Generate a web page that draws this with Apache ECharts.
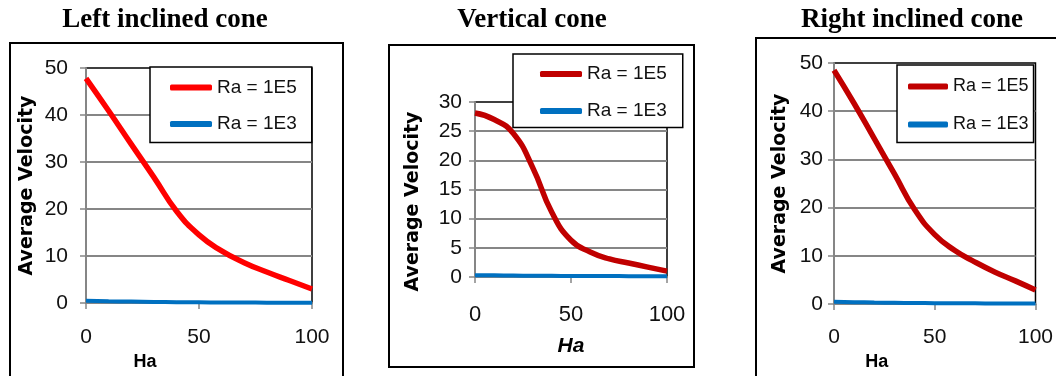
<!DOCTYPE html>
<html>
<head>
<meta charset="utf-8">
<script src="https://cdn.jsdelivr.net/npm/echarts@6/dist/echarts.min.js"></script>
<style>
  html, body { margin: 0; padding: 0; background: #fff; }
  #main { width: 1056px; height: 376px; }
</style>
</head>
<body>
<div id="main"></div>
<script>
// Hartmann number
var ha = [0, 10, 20, 30, 40, 50, 60, 70, 80, 90, 100];
// left inclined cone
var leftRa1E5 = [47.8, 40.9, 33.8, 26.8, 19.6, 14.5, 11.1, 8.6, 6.6, 4.8, 3.0];
var leftRa1E3 = [0.5, 0.4, 0.32, 0.25, 0.2, 0.16, 0.13, 0.11, 0.1, 0.1, 0.1];
// vertical cone
var vertRa1E5 = [28.1, 27.0, 24.6, 18.8, 11.1, 6.3, 4.3, 3.1, 2.4, 1.7, 1.0];
var vertRa1E3 = [0.3, 0.28, 0.25, 0.22, 0.2, 0.18, 0.17, 0.16, 0.15, 0.15, 0.15];
// right inclined cone
var rightRa1E5 = [48.5, 41.6, 34.3, 27.0, 19.6, 14.4, 11.1, 8.7, 6.6, 4.8, 2.9];
var rightRa1E3 = [0.45, 0.38, 0.3, 0.25, 0.2, 0.17, 0.15, 0.13, 0.12, 0.12, 0.12];

var titles = ["Left inclined cone", "Vertical cone", "Right inclined cone"];
var legendNames = ["Ra = 1E5", "Ra = 1E3"];

function pairs(ys) {
  return ha.map(function (x, i) { return [x, ys[i]]; });
}

var gridBox = [
  { left: 86, top: 68, width: 226, height: 238 },
  { left: 475, top: 102, width: 192, height: 175 },
  { left: 834, top: 63, width: 202, height: 241 }
];
var yMax = [50, 30, 50];
var yStep = [10, 5, 10];
var redColor = ["#ff0000", "#c00000", "#c00000"];
var blueColor = "#0070c0";
var sans = "'Liberation Sans', Arial, sans-serif";

var chart = echarts.init(document.getElementById("main"));

// one invisible suffix per panel keeps the legend names apart
function nm(k, i) { return legendNames[k] + "\u200b".repeat(i); }

var option = {
  animation: false,
  title: [
    { text: titles[0], left: 165, top: 7 },
    { text: titles[1], left: 532, top: 7 },
    { text: titles[2], left: 912, top: 7 }
  ].map(function (t) {
    t.textAlign = "center";
    t.padding = 0;
    t.textStyle = { fontFamily: "Liberation Serif", fontWeight: "bold", fontSize: 27, color: "#000" };
    return t;
  }),
  graphic: [
    { type: "rect", shape: { x: 10, y: 43, width: 333, height: 360 }, style: { fill: "none", stroke: "#000", lineWidth: 2 } },
    { type: "rect", shape: { x: 389, y: 45, width: 305, height: 322 }, style: { fill: "none", stroke: "#000", lineWidth: 2 } },
    { type: "rect", shape: { x: 756, y: 38, width: 330, height: 360 }, style: { fill: "none", stroke: "#000", lineWidth: 2 } }
  ],
  grid: gridBox.map(function (g) {
    return {
      left: g.left, top: g.top, width: g.width, height: g.height,
      show: true, borderColor: "#000", borderWidth: 1.5, backgroundColor: "transparent"
    };
  }),
  legend: [
    { left: 150, top: 67, padding: [11, 15, 9, 20], itemGap: 17.5, itemWidth: 42, size: 19 },
    { left: 513, top: 54, padding: [10.5, 16, 7, 27], itemGap: 18, itemWidth: 42, size: 19 },
    { left: 897, top: 65, padding: [12.5, 5, 9, 11], itemGap: 20, itemWidth: 40, size: 18 }
  ].map(function (l, i) {
    return {
      left: l.left, top: l.top, padding: l.padding, itemGap: l.itemGap,
      itemWidth: l.itemWidth, itemHeight: 6, orient: "vertical", icon: "roundRect",
      backgroundColor: "#fff", borderColor: "#000", borderWidth: 1.5, borderRadius: 0,
      data: [nm(0, i), nm(1, i)],
      textStyle: { fontFamily: sans, fontSize: l.size, color: "#111" },
      selectedMode: false
    };
  }),
  xAxis: [0, 1, 2].map(function (i) {
    var c = [
      { gap: 33, pad: [0, 108, 0, 0], style: "normal", size: 18, margin: 24, tick: 21 },
      { gap: 59, pad: [0, 0, 0, 0], style: "italic", size: 21, margin: 27, tick: 22 },
      { gap: 30, pad: [0, 116, 0, 0], style: "normal", size: 18, margin: 23, tick: 21 }
    ][i];
    return {
      gridIndex: i, type: "value", min: 0, max: 100, interval: 50,
      name: "Ha", nameLocation: "middle", nameGap: c.gap,
      nameTextStyle: {
        fontFamily: sans, fontWeight: "bold", fontStyle: c.style,
        fontSize: c.size, color: "#000", padding: c.pad
      },
      axisLine: { show: true, lineStyle: { color: "#868686", width: 2 } },
      axisTick: { show: true, length: 6, lineStyle: { color: "#868686", width: 1.5 } },
      axisLabel: { margin: c.margin, fontFamily: sans, fontSize: c.tick, color: "#111" },
      splitLine: { show: false }
    };
  }),
  yAxis: [0, 1, 2].map(function (i) {
    return {
      gridIndex: i, type: "value", min: 0, max: yMax[i], interval: yStep[i],
      name: "Average Velocity", nameLocation: "middle", nameGap: [49, 52, 44][i],
      nameTextStyle: {
        fontFamily: "DejaVu Sans", fontWeight: "bold", fontSize: 19, color: "#000",
        padding: i === 1 ? [0, 24, 0, 0] : 0
      },
      axisLine: { show: true, lineStyle: { color: "#868686", width: 2 } },
      axisTick: { show: true, length: 6, lineStyle: { color: "#868686", width: 1.5 } },
      axisLabel: { margin: [18, 13, 11][i], fontFamily: sans, fontSize: 21, color: "#111" },
      splitLine: { show: true, showMaxLine: false, lineStyle: { color: "#868686", width: 2 } }
    };
  }),
  series: []
};

var redData = [leftRa1E5, vertRa1E5, rightRa1E5];
var blueData = [leftRa1E3, vertRa1E3, rightRa1E3];
[0, 1, 2].forEach(function (i) {
  option.series.push({
    name: nm(0, i),
    type: "line", xAxisIndex: i, yAxisIndex: i,
    data: pairs(redData[i]), smooth: 0.5, symbol: "none",
    lineStyle: { color: redColor[i], width: 5.5 },
    itemStyle: { color: redColor[i] }, z: 3
  });
  option.series.push({
    name: nm(1, i),
    type: "line", xAxisIndex: i, yAxisIndex: i,
    data: pairs(blueData[i]), smooth: 0.5, symbol: "none",
    lineStyle: { color: blueColor, width: 4 },
    itemStyle: { color: blueColor }, z: 2
  });
});

chart.setOption(option);
</script>
</body>
</html>
